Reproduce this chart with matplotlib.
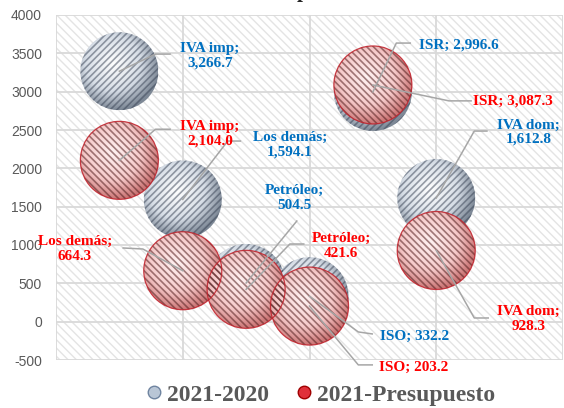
import numpy as np
import matplotlib.pyplot as plt
from matplotlib.colors import to_rgb
from matplotlib.patches import Ellipse, Rectangle
from matplotlib.lines import Line2D

# data
categorias = ['IVA imp', 'Los demás', 'Petróleo', 'ISO', 'ISR', 'IVA dom']
pos_x = [1, 2, 3, 4, 5, 6]
v_2020 = [3266.7, 1594.1, 504.5, 332.2, 2996.6, 1612.8]
v_presup = [2104.0, 664.3, 421.6, 203.2, 3087.3, 928.3]
series = ['2021-2020', '2021-Presupuesto']
yticks = list(range(-500, 4001, 500))

# label layout (text centre, leader elbow, leader end) in data coords
lab_2020 = [((2.43, 3464), (1.57, 3490), (1.80, 3490)),
            ((3.69, 2304), (2.71, 2356), (2.91, 2356)),
            ((3.76, 1613), (3.80, 1313), (3.80, 1313)),
            ((5.65, -187), (4.77, -134), (4.99, -160)),
            ((6.36, 3607), (5.37, 3634), (5.59, 3634)),
            ((7.46, 2472), (6.60, 2486), (6.80, 2486))]
lab_presup = [((2.43, 2445), (1.57, 2510), (1.80, 2510)),
              ((0.30, 948), (1.37, 948), (1.06, 961)),
              ((4.50, 987), (3.69, 1013), (3.91, 1013)),
              ((5.65, -591), (4.77, -564), (4.99, -564)),
              ((7.21, 2877), (6.20, 2880), (6.55, 2880)),
              ((7.46, 35), (6.60, 48), (6.82, 48))]

W, H = 564, 408
fig = plt.figure(figsize=(W / 100, H / 100), dpi=100)
ax = fig.add_axes([56 / W, 48 / H, 507 / W, 345 / H])
ax.set_xlim(0, 8)
ax.set_ylim(-500, 4000)

# bubble size in data units (same pixel radius for every bubble)
rx = 39 / 507 * 8
ry = 39 / 345 * 4500


def sphere(hi, mid, edge, n=140):
    t = np.linspace(-1, 1, n)
    xx, yy = np.meshgrid(t, t)
    d = np.clip(np.hypot(xx + 0.15, yy + 0.2) / 1.2, 0, 1)
    hi, mid, edge = [np.array(to_rgb(c)) for c in (hi, mid, edge)]
    a = np.clip(d / 0.6, 0, 1)[..., None]
    b = np.clip((d - 0.6) / 0.4, 0, 1)[..., None]
    col = np.where(d[..., None] < 0.6, hi * (1 - a) + mid * a, mid * (1 - b) + edge * b)
    img = np.ones((n, n, 4))
    img[..., :3] = col
    return img


styles = {
    '2021-2020': dict(img=sphere('#ffffff', '#d6dde6', '#7d8896'), hatch='/////',
                      hc=(0.22, 0.26, 0.33, 0.5), rim='none', txt='#0070C0', z=2),
    '2021-Presupuesto': dict(img=sphere('#fff2f2', '#f6caca', '#cc7777'), hatch='\\\\\\\\\\',
                             hc=(0.33, 0.12, 0.12, 0.55), rim='#c0202a', txt='#FF0000', z=5),
}

# hatched plot background
bg = Rectangle((0, 0), 1, 1, transform=ax.transAxes, facecolor='white',
               edgecolor='#e4e4e4', hatch='\\\\\\\\', lw=0, zorder=0.1)
ax.add_patch(bg)

for name, vals, labs in [(series[0], v_2020, lab_2020), (series[1], v_presup, lab_presup)]:
    st = styles[name]
    for cat, x, y, (tp, el, en) in zip(categorias, pos_x, vals, labs):
        clip = Ellipse((x, y), 2 * rx, 2 * ry, transform=ax.transData)
        im = ax.imshow(st['img'], extent=[x - rx, x + rx, y - ry, y + ry], origin='upper',
                       aspect='auto', interpolation='bilinear', zorder=st['z'])
        im.set_clip_path(clip)
        h = Ellipse((x, y), 2 * rx, 2 * ry, fill=False, hatch=st['hatch'],
                    edgecolor=st['hc'], lw=0, zorder=st['z'] + 0.1)
        try:
            h.set_hatch_linewidth(1.2)
        except AttributeError:
            pass
        ax.add_patch(h)
        if st['rim'] != 'none':
            ax.add_patch(Ellipse((x, y), 2 * rx, 2 * ry, fill=False, edgecolor=st['rim'],
                                 lw=0.9, alpha=0.85, zorder=st['z'] + 0.2))
        # leader line and label
        ax.plot([x, el[0], en[0]], [y, el[1], en[1]], color='#a6a6a6', lw=1.1,
                zorder=10, clip_on=False)
        txt = f'{cat}; {y:,.1f}' if cat in ('ISO', 'ISR') else f'{cat};\n{y:,.1f}'
        ax.text(tp[0], tp[1], txt, ha='center', va='center', fontsize=11,
                fontweight='bold', family='Liberation Serif', color=st['txt'],
                zorder=11, clip_on=False, linespacing=1.15)

ax.set_xlim(0, 8)
ax.set_ylim(-500, 4000)
ax.set_xticks([0, 2, 4, 6, 8])
ax.set_xticklabels([])
ax.set_yticks(yticks)
ax.set_yticklabels([str(v) for v in yticks], family='Liberation Sans', fontsize=10,
                   color='#595959')
ax.tick_params(length=0, pad=10)
ax.grid(True, color='#d9d9d9', lw=1.3)
ax.set_axisbelow(True)
for s in ax.spines.values():
    s.set_visible(False)

# clipped title (only the descender shows)
fig.text(303 / W, 1 + 2.5 / H, 'p', ha='center', va='baseline', fontsize=15,
         fontweight='bold', family='Liberation Serif', color='#262626')

handles = [Line2D([], [], marker='o', ls='', markersize=9, markerfacecolor='#b9c6d6',
                  markeredgecolor='#6f84a0'),
           Line2D([], [], marker='o', ls='', markersize=9, markerfacecolor='#e0303a',
                  markeredgecolor='#a00000')]
fig.legend(handles, series, loc='center', bbox_to_anchor=(0.569, 0.032), ncol=2,
           frameon=False, handlelength=0.6, handletextpad=0.25, columnspacing=1.2,
           borderpad=0, prop=dict(family='Liberation Serif', weight='bold', size=17),
           labelcolor='#595959')

fig.savefig('out.png', dpi=100)
